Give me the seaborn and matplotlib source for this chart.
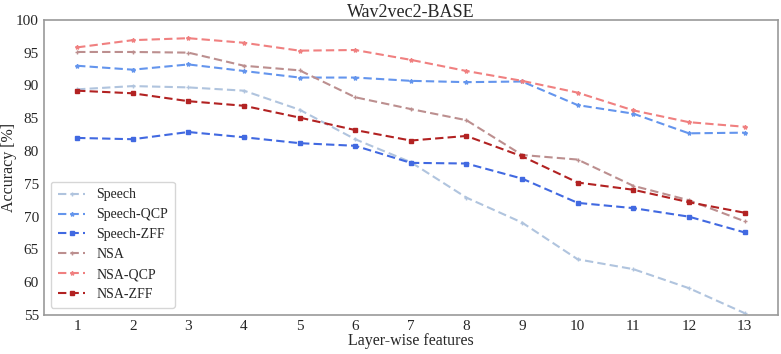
import pandas as pd
import numpy as np
import matplotlib.pyplot as plt
import seaborn as sns

layers = list(range(1, 14))

speech = [89.4, 89.9, 89.7, 89.2, 86.3, 81.8, 78.3, 72.9, 69.1, 63.5, 62.0, 59.1, 55.3]
speech_qcp = [93.0, 92.4, 93.2, 92.2, 91.2, 91.2, 90.7, 90.5, 90.6, 87.0, 85.7, 82.7, 82.8]
speech_zff = [82.0, 81.8, 82.9, 82.1, 81.2, 80.8, 78.2, 78.1, 75.8, 72.1, 71.3, 70.0, 67.6]
nsa = [95.1, 95.1, 95.0, 93.0, 92.3, 88.2, 86.4, 84.7, 79.4, 78.7, 74.7, 72.5, 69.3]
nsa_qcp = [95.8, 96.9, 97.2, 96.5, 95.3, 95.4, 93.9, 92.2, 90.7, 88.9, 86.2, 84.4, 83.7]
nsa_zff = [89.2, 88.8, 87.6, 86.9, 85.1, 83.2, 81.6, 82.3, 79.2, 75.2, 74.1, 72.2, 70.6]

series_names = ["Speech", "Speech-QCP", "Speech-ZFF", "NSA", "NSA-QCP", "NSA-ZFF"]
series_vals = [speech, speech_qcp, speech_zff, nsa, nsa_qcp, nsa_zff]
colors = ["lightsteelblue", "cornflowerblue", "royalblue", "rosybrown", "lightcoral", "firebrick"]
marker_list = ["+", "*", "s", "+", "*", "s"]
yticks = [55, 60, 65, 70, 75, 80, 85, 90, 95, 100]

sns.set_style("white")
plt.rcParams["font.family"] = ["Liberation Serif", "DejaVu Serif"]

fig, ax = plt.subplots(figsize=(7.81, 3.54), dpi=100)
for name, vals, c, m in zip(series_names, series_vals, colors, marker_list):
    d = pd.DataFrame({"Layer": layers, "Accuracy": vals})
    sns.lineplot(data=d, x="Layer", y="Accuracy", color=c, marker=m,
                 linestyle=(0, (4, 2)), linewidth=1.5, markersize=3,
                 markeredgewidth=1, markeredgecolor=c, label=name, ax=ax)

ax.set_ylim(55, 100)
ax.set_xticks(layers)
ax.set_yticks(yticks)
ax.set_xlabel("Layer-wise features", fontsize=11.5, labelpad=0)
ax.set_ylabel("Accuracy [%]", fontsize=11.5)
ax.yaxis.set_label_coords(-0.037, 0.5)
ax.set_title("Wav2vec2-BASE", fontsize=13, pad=2)
ax.tick_params(labelsize=11, length=2, color="#888888", pad=1.5)
for s in ax.spines.values():
    s.set_color("#999999")
    s.set_linewidth(1.2)

leg = ax.legend(loc="lower left", fontsize=10, frameon=True, handlelength=2.0,
                labelspacing=0.5, borderpad=0.5, handletextpad=0.8)
leg.get_frame().set_edgecolor("#cccccc")

plt.subplots_adjust(left=0.056, right=0.996, top=0.944, bottom=0.11)
plt.savefig("out.png", dpi=100)
plt.close()
